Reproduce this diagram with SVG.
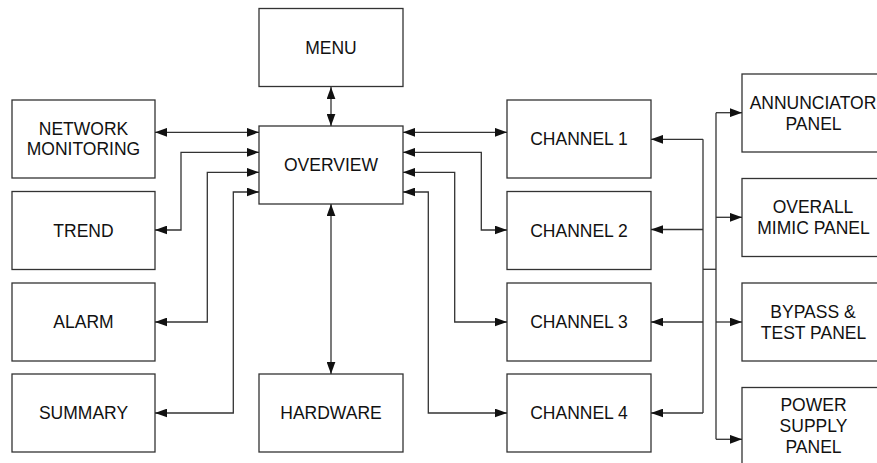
<svg xmlns="http://www.w3.org/2000/svg" width="877" height="463" viewBox="0 0 877 463">
<defs>
<marker id="ah" markerUnits="userSpaceOnUse" markerWidth="12" markerHeight="9" refX="11" refY="4" orient="auto-start-reverse" viewBox="0 0 11 8">
<path d="M0,0 L11,4 L0,8 z" fill="#111"/>
</marker>
<style>
.box{fill:#fff;stroke:#333;stroke-width:1.3}
.t{font-family:"Liberation Sans",Arial,sans-serif;font-size:17.5px;fill:#111;text-anchor:middle}
.c{fill:none;stroke:#333;stroke-width:1.3}
.b{marker-start:url(#ah);marker-end:url(#ah)}
.e{marker-end:url(#ah)}
</style>
</defs>
<rect width="877" height="463" fill="#fff"/>
<g id="menu"><rect class="box" x="259" y="8.5" width="144" height="78"/><text class="t" x="331" y="53.5">MENU</text></g>
<g id="overview"><rect class="box" x="259" y="126" width="144" height="78"/><text class="t" x="331" y="171">OVERVIEW</text></g>
<g id="hardware"><rect class="box" x="259" y="374" width="144" height="78"/><text class="t" x="331" y="419">HARDWARE</text></g>
<g id="network"><rect class="box" x="12" y="100" width="143" height="78"/><text class="t" x="83.5" y="134.5">NETWORK</text><text class="t" x="83.5" y="155">MONITORING</text></g>
<g id="trend"><rect class="box" x="12" y="191.5" width="143" height="78"/><text class="t" x="83.5" y="236.5">TREND</text></g>
<g id="alarm"><rect class="box" x="12" y="283" width="143" height="78"/><text class="t" x="83.5" y="328">ALARM</text></g>
<g id="summary"><rect class="box" x="12" y="374" width="143" height="78"/><text class="t" x="83.5" y="419">SUMMARY</text></g>
<g id="channel1"><rect class="box" x="507" y="100" width="144" height="78"/><text class="t" x="579" y="145">CHANNEL 1</text></g>
<g id="channel2"><rect class="box" x="507" y="191.5" width="144" height="78"/><text class="t" x="579" y="236.5">CHANNEL 2</text></g>
<g id="channel3"><rect class="box" x="507" y="283" width="144" height="78"/><text class="t" x="579" y="328">CHANNEL 3</text></g>
<g id="channel4"><rect class="box" x="507" y="374" width="144" height="78"/><text class="t" x="579" y="419">CHANNEL 4</text></g>
<g id="annunciator"><rect class="box" x="742" y="74" width="143" height="78"/><text class="t" x="813" y="108.5">ANNUNCIATOR</text><text class="t" x="813.5" y="129.5">PANEL</text></g>
<g id="mimic"><rect class="box" x="742" y="178.5" width="143" height="78"/><text class="t" x="813" y="213">OVERALL</text><text class="t" x="813.5" y="234">MIMIC PANEL</text></g>
<g id="bypass"><rect class="box" x="742" y="283" width="143" height="78"/><text class="t" x="813" y="317.5">BYPASS &amp;</text><text class="t" x="813.5" y="338.5">TEST PANEL</text></g>
<g id="power"><rect class="box" x="742" y="387.5" width="143" height="78"/><text class="t" x="813.5" y="411">POWER</text><text class="t" x="813.5" y="432">SUPPLY</text><text class="t" x="813.5" y="453">PANEL</text></g>
<g id="connectors">
<path class="c b" d="M331,87 V126"/>
<path class="c b" d="M331,204 V374"/>
<path class="c b" d="M155,132.3 H259"/>
<path class="c b" d="M155,230 H181 V152.3 H259"/>
<path class="c b" d="M155,322 H207.3 V172.3 H259"/>
<path class="c b" d="M155,413 H233.3 V192 H259"/>
<path class="c b" d="M403,132.3 H507"/>
<path class="c b" d="M403,152.3 H481.3 V230 H507"/>
<path class="c b" d="M403,172.3 H454.7 V322 H507"/>
<path class="c b" d="M403,192 H428.3 V413 H507"/>
<path class="c" d="M703,139.3 V413"/>
<path class="c e" d="M703,139.3 H651"/>
<path class="c e" d="M703,229.5 H651"/>
<path class="c e" d="M703,322 H651"/>
<path class="c e" d="M703,413 H651"/>
<path class="c" d="M703,269.3 H716"/>
<path class="c" d="M716,112.7 V439.3"/>
<path class="c e" d="M716,112.7 H742"/>
<path class="c e" d="M716,217.3 H742"/>
<path class="c e" d="M716,322 H742"/>
<path class="c e" d="M716,439.3 H742"/>
</g>
</svg>
